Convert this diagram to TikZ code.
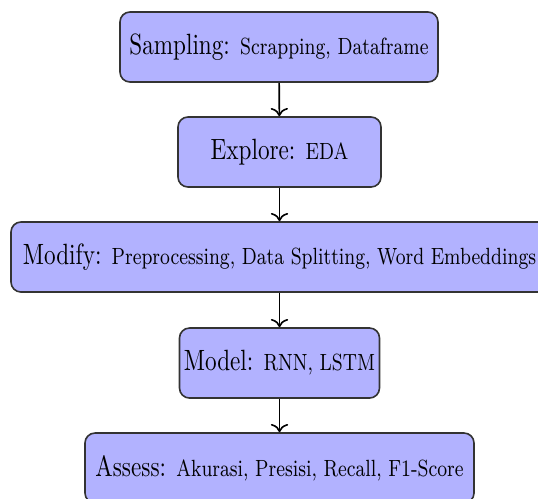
\documentclass[tikz,border=0pt]{standalone}
\usepackage{graphicx}
\usetikzlibrary{arrows.meta}
\newcommand\condensed[1]{\scalebox{0.79}[1]{#1}}
\begin{document}
\begin{tikzpicture}[x=0.341pt,y=-0.341pt,
  box/.style={draw=black!80, line width=0.55pt, fill=blue!30, rounded corners=3.4pt,
    minimum height={70*0.341pt}, inner sep=0pt, font=\normalsize},
  conn/.style={->, line width=0.55pt}]
\useasboundingbox (0,0) rectangle (538,498);
\clip (0,0) rectangle (538,498);
\node[box, minimum width={318*0.341pt}] (s) at (279,47)
  {\condensed{Sampling: {\footnotesize Scrapping, Dataframe}}};
\node[box, minimum width={203*0.341pt}] (e) at (279.5,152)
  {\condensed{Explore: {\footnotesize EDA}}};
\node[box, minimum width={537*0.341pt}] (m) at (279.5,257)
  {\condensed{Modify: {\footnotesize Preprocessing, Data Splitting, Word Embeddings}}};
\node[box, minimum width={200*0.341pt}] (mo) at (279.5,363)
  {\condensed{Model: {\footnotesize RNN, LSTM}}};
\node[box, minimum width={389*0.341pt}] (a) at (279.5,468)
  {\condensed{Assess: {\footnotesize Akurasi, Presisi, Recall, F1-Score}}};
\draw[conn] (s) -- (e);
\draw[conn] (e) -- (m);
\draw[conn] (m) -- (mo);
\draw[conn] (mo) -- (a);
\end{tikzpicture}
\end{document}
